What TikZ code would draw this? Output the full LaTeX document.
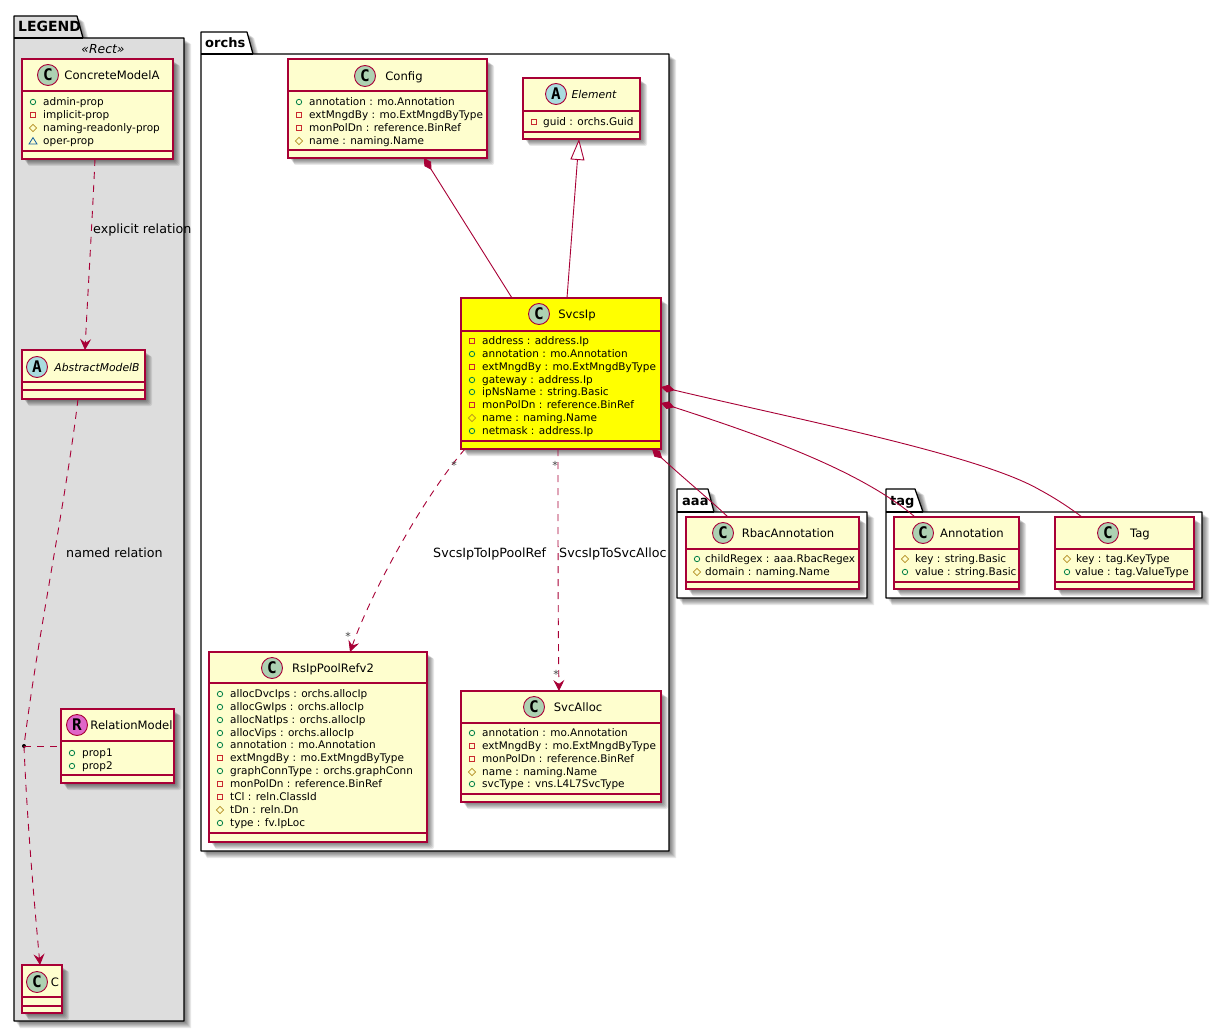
\documentclass[tikz,border=0pt]{standalone}
\usepackage{fontspec}
\setmainfont{DejaVu Sans}
\newfontfamily\badgefont{DejaVu Sans Mono}
\usetikzlibrary{arrows.meta,calc}
\definecolor{umlred}{HTML}{A80036}
\definecolor{umlfill}{HTML}{FEFECE}
\definecolor{legendgrey}{HTML}{DDDDDD}
\definecolor{hiyellow}{HTML}{FFFF00}
\definecolor{cgreen}{HTML}{ADD1B2}
\definecolor{ablue}{HTML}{A9DCDF}
\definecolor{rpink}{HTML}{DF66C8}
\definecolor{icpub}{HTML}{038048}
\definecolor{icpri}{HTML}{C82930}
\definecolor{icpro}{HTML}{B38D22}
\definecolor{icpkg}{HTML}{1963A0}
\definecolor{stargrey}{HTML}{444444}
\tikzset{
  classnode/.style={draw=umlred,line width=1.1pt,rectangle,inner sep=0pt,outer sep=0pt},
  classsep/.style={draw=umlred,line width=1.1pt},
  headname/.style={font=\fontsize{11.6}{14}\selectfont,inner sep=0pt,anchor=base},
  italname/.style={font=\fontsize{10.8}{14}\itshape\selectfont,inner sep=0pt,anchor=base},
  badge/.style={circle,draw=umlred,line width=.9pt,minimum size=21pt,inner sep=0pt,font=\fontsize{16}{18}\badgefont\bfseries\selectfont},
  memtext/.style={font=\fontsize{10.5}{12}\selectfont,inner sep=0pt,anchor=base west},
  pkgline/.style={draw=black,line width=1.25pt},
  pkgtitle/.style={font=\fontsize{13}{15}\bfseries\selectfont,inner sep=0pt,anchor=base west},
  rel/.style={draw=umlred,line width=.9pt},
  reldash/.style={rel,dash pattern=on 7pt off 6pt},
  relarrow/.style={-{Stealth[length=11pt,width=11pt,inset=4pt,fill=umlred]}},
  comptip/.style={{Diamond[length=14pt,width=8pt,fill=umlred,sep=0pt]}-},
  exttip/.style={{Triangle[open,fill=white,length=21pt,width=14pt]}-},
  rellabel/.style={font=\fontsize{12.7}{15}\selectfont,inner sep=0pt,anchor=base west},
  starlabel/.style={font=\fontsize{11}{12}\selectfont,text=stargrey,inner sep=0pt},
  softshade/.style={fill=black,opacity=.09,draw=none},
}
\newcount\memc
\newcommand\softrect[4]{%
  \foreach \d in {1,2,3,4,5,6,7}{
    \fill[softshade,rounded corners=2pt] ({#1+1+\d*.7},{#2+1+\d*.7}) rectangle ({#3+\d},{#4+\d});
  }}
% id x1 y1 x2 y2 sep1 sep2 fill
\newcommand\classbox[8]{%
  \softrect{#2}{#3}{#4}{#5}
  \pgfmathsetmacro\cw{#4-#2}\pgfmathsetmacro\ch{#5-#3}
  \node[classnode,fill=#8,minimum width=\cw pt,minimum height=\ch pt] (#1) at ({(#2+#4)/2},{(#3+#5)/2}) {};
  \draw[classsep] (#2,#6) -- (#4,#6);
  \draw[classsep] (#2,#7) -- (#4,#7);
}
% id cx cy colour letter namex style name
\newcommand\classhead[8]{%
  \node[badge,fill=#4] (#1-badge) at (#2,#3) {#5};
  \node[#7] (#1-name) at (#6,#3+4.2) {#8};
}
\newcommand\icpub[2]{\draw[icpub,line width=.8pt] (#1,#2) circle (2.7pt);}
\newcommand\icpri[2]{\draw[icpri,line width=.8pt] (#1-2.8,#2-2.8) rectangle (#1+2.8,#2+2.8);}
\newcommand\icpro[2]{\draw[icpro,line width=.8pt] (#1-3.6,#2) -- (#1,#2-3.6) -- (#1+3.6,#2) -- (#1,#2+3.6) -- cycle;}
\newcommand\icpkg[2]{\draw[icpkg,line width=.8pt] (#1-4,#2+3) -- (#1,#2-3.4) -- (#1+4,#2+3) -- cycle;}
\newcommand\mem[5]{%
  \csname ic#1\endcsname{#2}{#4}
  \global\advance\memc by 1
  \node[memtext] (mem\the\memc) at (#3,#4+3.6) {#5};
}
% x1 ytop tabx1 tabx2 ybody x2 y2 fill
\newcommand\pkgbox[8]{%
  \foreach \d in {1,2,3,4,5,6,7}{
    \fill[softshade] ({#1+1+\d*.7},{#7+\d}) -- ({#6+\d},{#7+\d}) -- ({#6+\d},{#5+1+\d*.7}) -- ({#4+\d},{#5+1+\d*.7}) -- ({#4+\d-6},{#2+1+\d*.7}) -- ({#1+1+\d*.7},{#2+1+\d*.7}) -- cycle;
  }
  \filldraw[pkgline,fill=#8,line join=round] (#1,#2) -- (#3,#2) -- (#4,#5) -- (#6,#5) -- (#6,#7) -- (#1,#7) -- cycle;
  \draw[pkgline] (#1,#5) -- (#4,#5);
}
\begin{document}
\begin{tikzpicture}[x=1pt,y=-1pt]
\useasboundingbox (0,0) rectangle (1222,1032);
\fill[white] (0,0) rectangle (1222,1032);

% packages
\pkgbox{14}{16}{77}{83}{38}{184}{1021}{legendgrey}
\node[pkgtitle,font=\fontsize{14}{15}\bfseries\selectfont] (legendtitle) at (18,32) {LEGEND};
\node[font=\fontsize{12.4}{14}\itshape\selectfont,inner sep=0pt] (legendrect) at (103,49) {«Rect»};
\pkgbox{201}{32}{247}{253}{54}{669}{851}{white}
\node[pkgtitle] (orchstitle) at (205,48) {orchs};
\pkgbox{677}{489}{708}{714}{512}{867}{598}{white}
\node[pkgtitle] (aaatitle) at (682,505) {aaa};
\pkgbox{886}{489}{915}{923}{512}{1202}{598}{white}
\node[pkgtitle] (tagtitle) at (890,505) {tag};

% legend classes
\classbox{concrete}{22}{59}{173}{159}{91}{151}{umlfill}
\classhead{concrete}{48}{75}{cgreen}{C}{112}{headname}{ConcreteModelA}
\mem{pub}{33}{43}{102}{admin-prop}
\mem{pri}{33}{43}{115}{implicit-prop}
\mem{pro}{33}{43}{128}{naming-readonly-prop}
\mem{pkg}{33}{43}{141}{oper-prop}

\classbox{abstract}{22}{350}{145}{399}{382}{390}{umlfill}
\classhead{abstract}{37}{367}{ablue}{A}{97}{italname}{AbstractModelB}

\classbox{relation}{61}{709}{174}{783}{741}{775}{umlfill}
\classhead{relation}{77}{725}{rpink}{R}{131.5}{headname}{RelationModel}
\mem{pub}{72}{82}{753}{prop1}
\mem{pub}{72}{82}{766}{prop2}

\classbox{cbox}{22}{965}{62}{1013}{997}{1006}{umlfill}
\classhead{cbox}{37}{982}{cgreen}{C}{55}{headname}{C}

% orchs classes
\classbox{config}{288}{59}{487}{158}{91}{150}{umlfill}
\classhead{config}{365}{76}{cgreen}{C}{404}{headname}{Config}
\mem{pub}{299}{309}{102}{annotation : mo.Annotation}
\mem{pri}{299}{309}{115}{extMngdBy : mo.ExtMngdByType}
\mem{pri}{299}{309}{128}{monPolDn : reference.BinRef}
\mem{pro}{299}{309}{141}{name : naming.Name}

\classbox{element}{523}{78}{640}{139}{111}{132}{umlfill}
\classhead{element}{556}{94}{ablue}{A}{594}{italname}{Element}
\mem{pri}{534}{543}{122}{guid : orchs.Guid}

\classbox{svcsip}{461}{298}{661}{449}{331}{441}{hiyellow}
\classhead{svcsip}{539}{314}{cgreen}{C}{577}{headname}{SvcsIp}
\mem{pri}{472}{482}{341}{address : address.Ip}
\mem{pub}{472}{482}{354}{annotation : mo.Annotation}
\mem{pri}{472}{482}{367}{extMngdBy : mo.ExtMngdByType}
\mem{pub}{472}{482}{380}{gateway : address.Ip}
\mem{pub}{472}{482}{392}{ipNsName : string.Basic}
\mem{pri}{472}{482}{405}{monPolDn : reference.BinRef}
\mem{pro}{472}{482}{418}{name : naming.Name}
\mem{pub}{472}{482}{431}{netmask : address.Ip}

\classbox{rsip}{209}{652}{427}{842}{683}{833}{umlfill}
\classhead{rsip}{272}{668}{cgreen}{C}{333}{headname}{RsIpPoolRefv2}
\mem{pub}{220}{230}{694}{allocDvcIps : orchs.allocIp}
\mem{pub}{220}{230}{707}{allocGwIps : orchs.allocIp}
\mem{pub}{220}{230}{720}{allocNatIps : orchs.allocIp}
\mem{pub}{220}{230}{733}{allocVips : orchs.allocIp}
\mem{pub}{220}{230}{745}{annotation : mo.Annotation}
\mem{pri}{220}{230}{758}{extMngdBy : mo.ExtMngdByType}
\mem{pub}{220}{230}{771}{graphConnType : orchs.graphConn}
\mem{pri}{220}{230}{784}{monPolDn : reference.BinRef}
\mem{pri}{220}{230}{797}{tCl : reln.ClassId}
\mem{pro}{220}{230}{810}{tDn : reln.Dn}
\mem{pub}{220}{230}{823}{type : fv.IpLoc}

\classbox{svcalloc}{461}{691}{661}{802}{723}{794}{umlfill}
\classhead{svcalloc}{534}{707}{cgreen}{C}{578}{headname}{SvcAlloc}
\mem{pub}{472}{482}{733}{annotation : mo.Annotation}
\mem{pri}{472}{482}{746}{extMngdBy : mo.ExtMngdByType}
\mem{pri}{472}{482}{759}{monPolDn : reference.BinRef}
\mem{pro}{472}{482}{772}{name : naming.Name}
\mem{pub}{472}{482}{784}{svcType : vns.L4L7SvcType}

% aaa / tag classes
\classbox{rbac}{686}{517}{859}{589}{549}{582}{umlfill}
\classhead{rbac}{723}{533}{cgreen}{C}{788}{headname}{RbacAnnotation}
\mem{pub}{697}{705}{559}{childRegex : aaa.RbacRegex}
\mem{pro}{697}{705}{572}{domain : naming.Name}

\classbox{annot}{894}{517}{1019}{589}{549}{582}{umlfill}
\classhead{annot}{923}{533}{cgreen}{C}{972}{headname}{Annotation}
\mem{pro}{905}{915}{559}{key : string.Basic}
\mem{pub}{905}{915}{572}{value : string.Basic}

\classbox{tagbox}{1055}{517}{1194}{589}{549}{582}{umlfill}
\classhead{tagbox}{1108}{533}{cgreen}{C}{1140}{headname}{Tag}
\mem{pro}{1067}{1076}{559}{key : tag.KeyType}
\mem{pub}{1067}{1075}{572}{value : tag.ValueType}

% connectors
\draw[reldash,relarrow] ([xshift=-2.5pt]concrete.south) .. controls (92,225) and (88,290) .. ([xshift=1.5pt]abstract.north);
\node[circle,fill=black,inner sep=0pt,minimum size=4pt] (reldot) at (24,746) {};
\draw[reldash] ([xshift=-5.5pt]abstract.south) .. controls (66,500) and (37,640) .. (reldot.center);
\draw[reldash,relarrow] (reldot.center) .. controls (27,820) and (34,900) .. ([xshift=-2pt]cbox.north);
\draw[reldash] (reldot.center) -- (relation.west);

\draw[rel,comptip] ([xshift=36.5pt]config.south) -- ([xshift=-49pt]svcsip.north);
\draw[rel,exttip] ([xshift=-2.5pt]element.south) -- ([xshift=6pt]svcsip.north);
\draw[reldash,relarrow] ([xshift=-96pt]svcsip.south) .. controls (425,495) and (372,590) .. ([xshift=32pt]rsip.north);
\draw[reldash,relarrow] ([xshift=-3pt]svcsip.south) .. controls (558,550) and (558,620) .. ([xshift=-2pt]svcalloc.north);
\draw[rel,comptip] ([xshift=91pt]svcsip.south) .. controls (680,475) and (710,500) .. ([xshift=-44.5pt]rbac.north);
\draw[rel,comptip] ([yshift=-29.5pt]svcsip.east) .. controls (760,435) and (860,470) .. ([xshift=-41.5pt]annot.north);
\draw[rel,comptip] ([yshift=-13.5pt]svcsip.east) .. controls (800,420) and (980,455) .. (1040,490) .. controls (1055,498) and (1070,508) .. ([xshift=-42.5pt]tagbox.north);

% connector labels
\node[rellabel] (lblexplicit) at (93,233.5) {explicit relation};
\node[rellabel] (lblnamed) at (66,557.5) {named relation};
\node[rellabel] (lblpool) at (433,557.5) {SvcsIpToIpPoolRef};
\node[rellabel] (lblalloc) at (559,557.5) {SvcsIpToSvcAlloc};
\node[starlabel] (star1) at (454,465) {*};
\node[starlabel] (star2) at (348,636) {*};
\node[starlabel] (star3) at (555,465) {*};
\node[starlabel] (star4) at (556,674) {*};
\end{tikzpicture}
\end{document}
